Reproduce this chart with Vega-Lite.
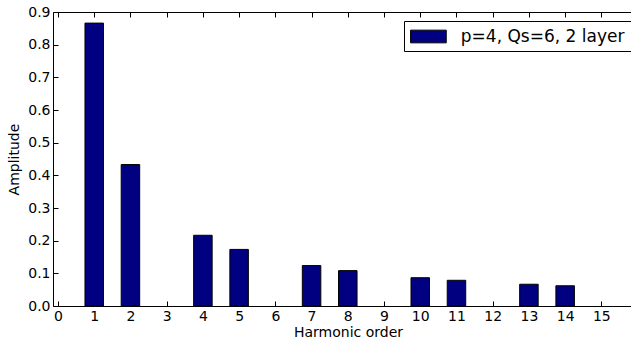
{
  "$schema": "https://vega.github.io/schema/vega-lite/v6.json",
  "width": 578,
  "height": 294,
  "autosize": {"type": "none"},
  "padding": {"left": 53, "top": 12, "right": 0, "bottom": 35},
  "background": "white",
  "config": {
    "font": "DejaVu Sans",
    "view": {"stroke": null},
    "axis": {"grid": false, "domain": true, "domainColor": "#000", "domainWidth": 1, "tickColor": "#000", "tickWidth": 1, "labelColor": "#000", "titleColor": "#000", "labelFont": "DejaVu Sans", "titleFont": "DejaVu Sans", "labelFontSize": 14, "titleFontSize": 14, "titleFontWeight": "normal", "labelOverlap": false, "zindex": 1}
  },
  "data": {"values": [
    {"h": 1, "amp": 0.866},
    {"h": 2, "amp": 0.433},
    {"h": 4, "amp": 0.2165},
    {"h": 5, "amp": 0.1732},
    {"h": 7, "amp": 0.1237},
    {"h": 8, "amp": 0.1083},
    {"h": 10, "amp": 0.0866},
    {"h": 11, "amp": 0.0787},
    {"h": 13, "amp": 0.0666},
    {"h": 14, "amp": 0.0619}
  ]},
  "layer": [
    {
      "mark": {"type": "bar", "size": 18.5, "stroke": "#000", "strokeWidth": 1},
      "encoding": {
        "x": {"field": "h", "type": "quantitative", "scale": {"domain": [0, 15.68], "nice": false, "zero": false},
          "axis": {"title": "Harmonic order", "values": [0,1,2,3,4,5,6,7,8,9,10,11,12,13,14,15], "tickSize": -5, "labelPadding": 8, "labelFlush": false, "titlePadding": 2, "titleX": 295}},
        "y": {"field": "amp", "type": "quantitative", "scale": {"domain": [0, 0.9], "nice": false},
          "axis": {"title": "Amplitude", "values": [0,0.1,0.2,0.3,0.4,0.5,0.6,0.7,0.8,0.9], "format": ".1f", "tickSize": -5, "labelPadding": 8, "labelOverlap": false, "titlePadding": 6}},
        "color": {"datum": "p=4, Qs=6, 2 layer", "type": "nominal", "scale": {"range": ["#000080"]},
          "legend": {"title": null, "orient": "none", "legendX": 351, "legendY": 9, "symbolType": "M-1,-0.712H3V0.712H-1Z", "symbolSize": 318, "symbolStrokeColor": "#000", "symbolStrokeWidth": 1, "labelFontSize": 17, "labelLimit": 400, "labelFont": "DejaVu Sans", "labelColor": "#000", "labelOffset": 31.8, "strokeColor": "#000", "fillColor": "white", "padding": 6, "cornerRadius": 0}}
      }
    },
    {
      "mark": {"type": "rule", "opacity": 0},
      "encoding": {
        "x": {"field": "h", "type": "quantitative", "axis": {"orient": "top", "title": null, "labels": false, "values": [0,1,2,3,4,5,6,7,8,9,10,11,12,13,14,15], "tickSize": -5}}
      }
    }
  ],
  "resolve": {"axis": {"x": "independent"}}
}
